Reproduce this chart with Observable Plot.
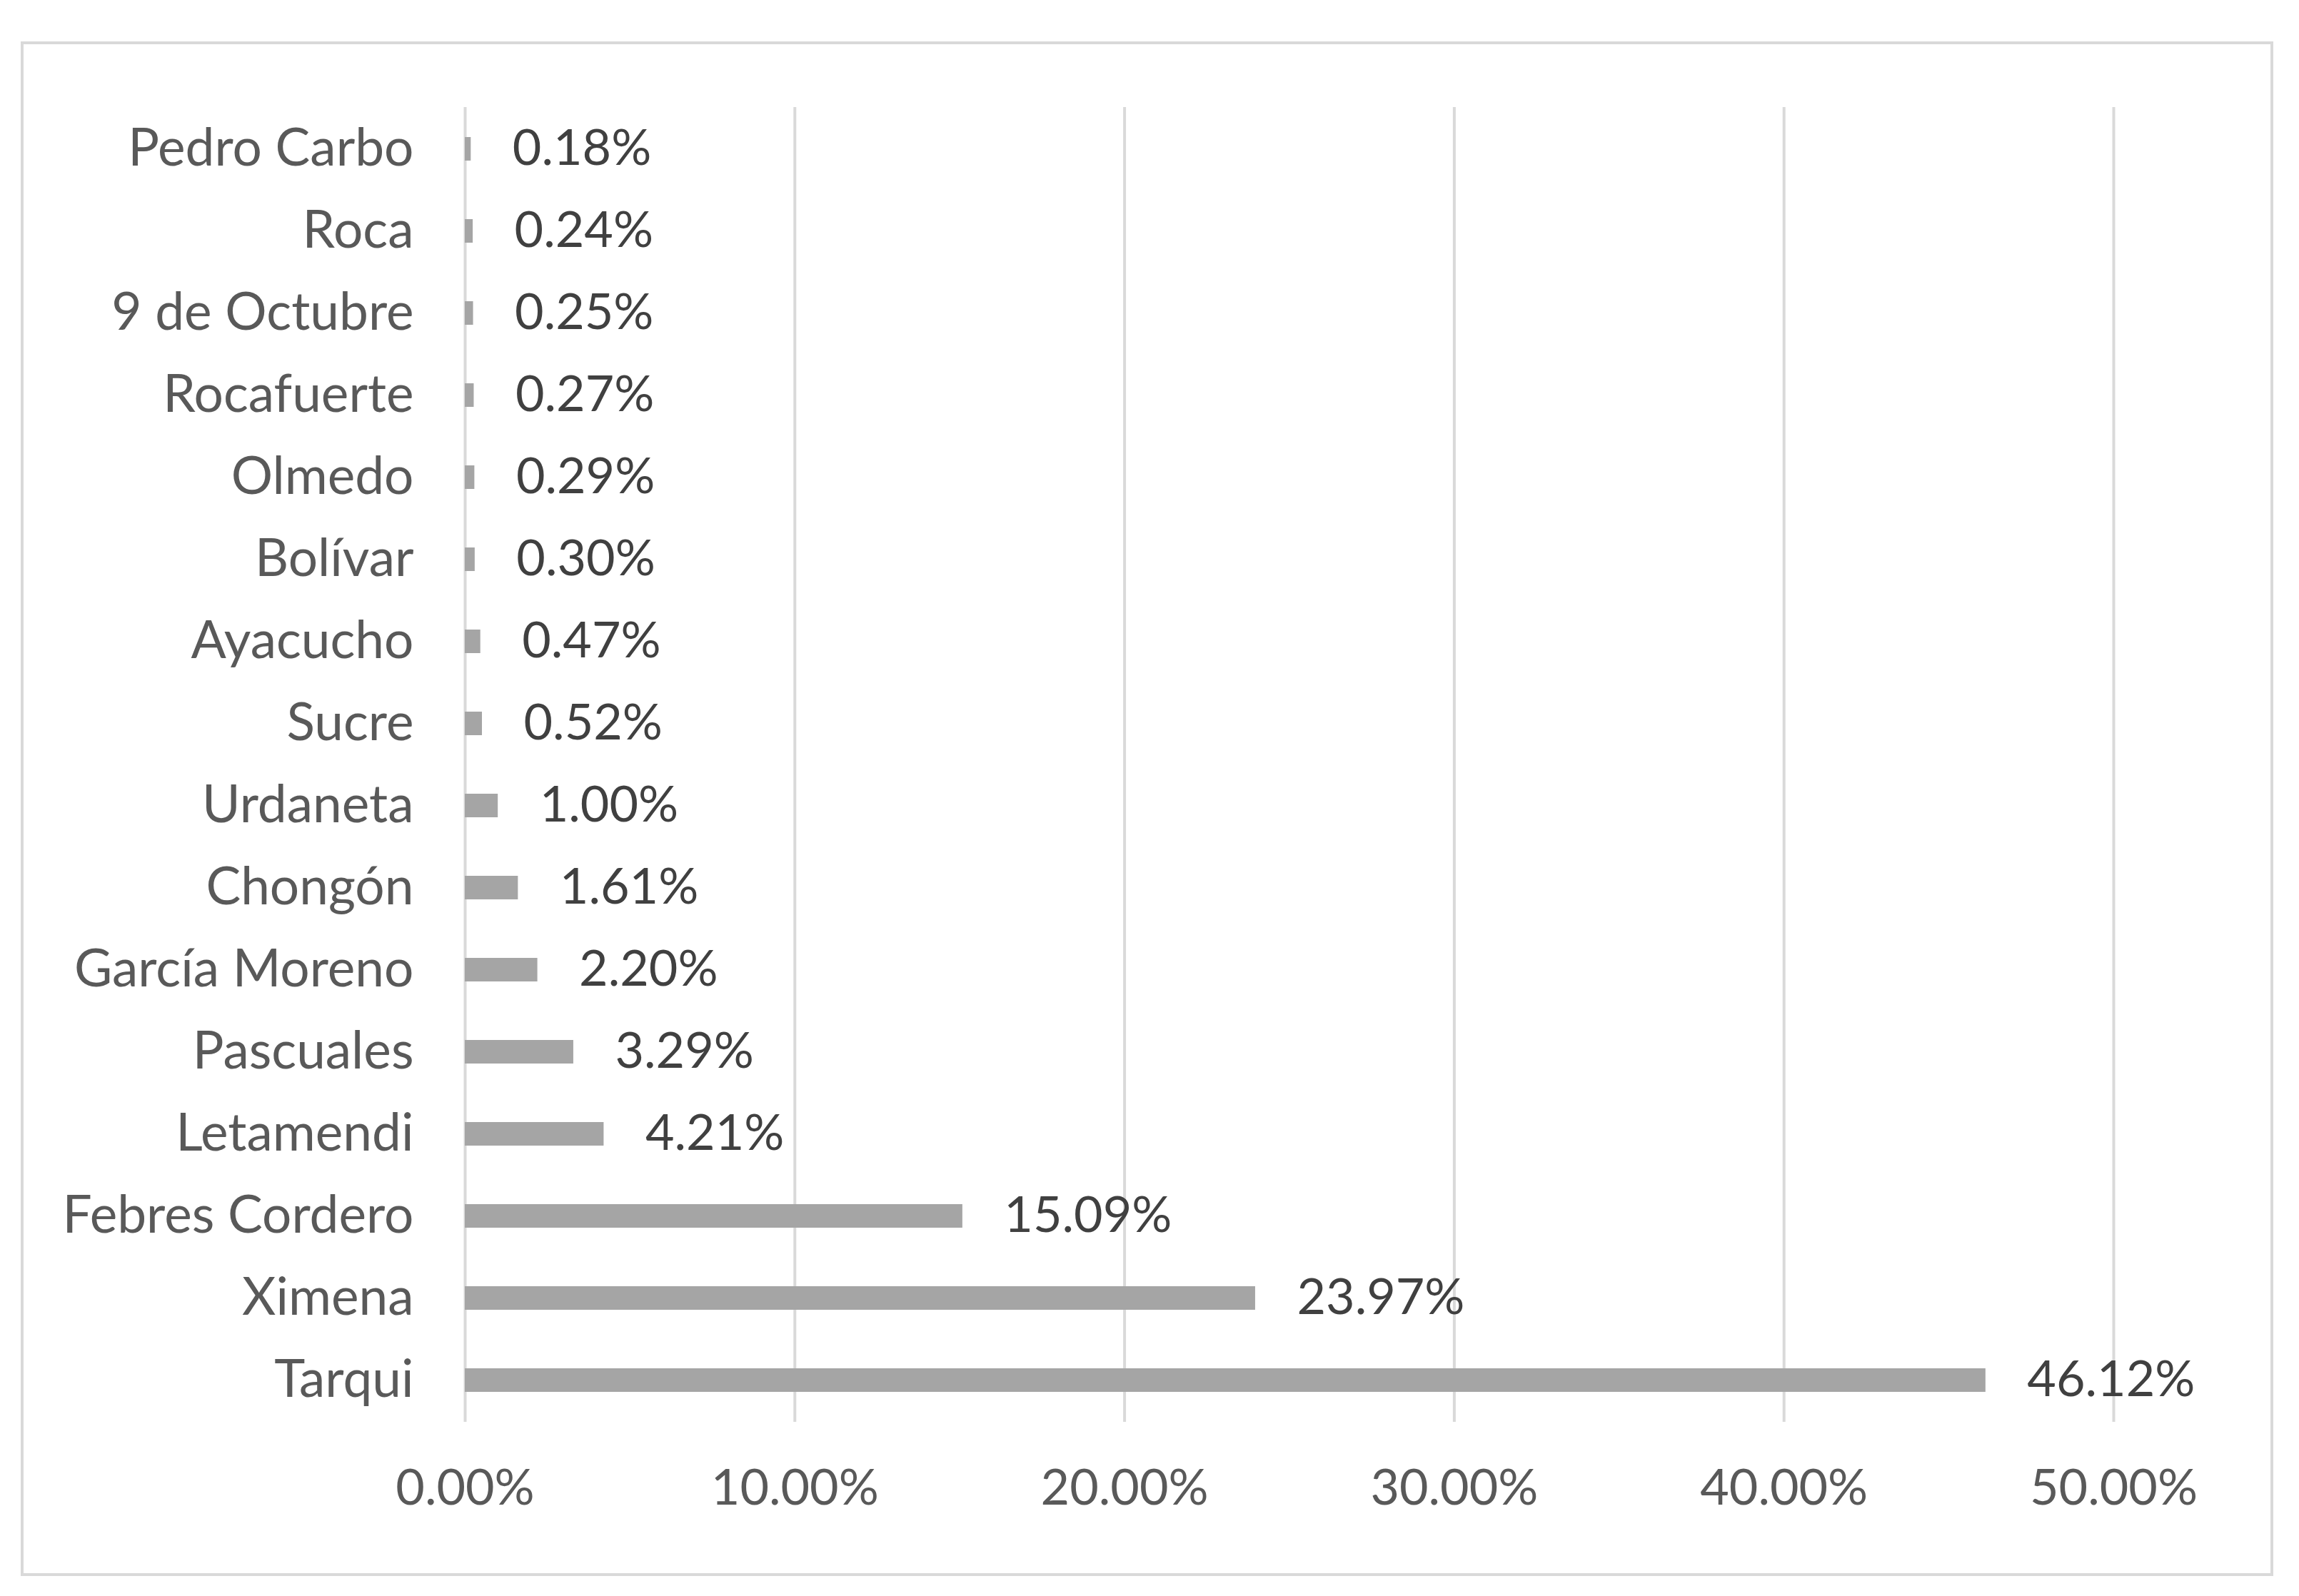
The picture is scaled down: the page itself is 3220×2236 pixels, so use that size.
<!DOCTYPE html>
<html>
<head>
<meta charset="utf-8">
<script src="https://cdn.jsdelivr.net/npm/d3@7"></script>
<script src="https://cdn.jsdelivr.net/npm/@observablehq/plot@0.6"></script>
<style>
  html, body { margin: 0; padding: 0; background: #ffffff; }
  #wrap { position: relative; width: 3220px; height: 2236px; }
  #frame { position: absolute; left: 29px; top: 58px; width: 3147px; height: 2142px; border: 4px solid #d9d9d9; pointer-events: none; }
  #chart { position: absolute; left: 0; top: 0; }
</style>
</head>
<body>
<div id="wrap"><div id="chart"></div><div id="frame"></div></div>
<script>
const parishes = ["Pedro Carbo", "Roca", "9 de Octubre", "Rocafuerte", "Olmedo", "Bolívar", "Ayacucho", "Sucre", "Urdaneta", "Chongón", "García Moreno", "Pascuales", "Letamendi", "Febres Cordero", "Ximena", "Tarqui"];
const shares = [0.18, 0.24, 0.25, 0.27, 0.29, 0.30, 0.47, 0.52, 1.00, 1.61, 2.20, 3.29, 4.21, 15.09, 23.97, 46.12];
const xTicks = [0, 10, 20, 30, 40, 50];

const data = parishes.map((name, i) => ({name, value: shares[i]}));
const pct = v => v.toFixed(2) + "%";

const chart = Plot.plot({
  width: 3220,
  height: 2236,
  marginLeft: 651,
  marginRight: 260,
  marginTop: 150,
  marginBottom: 244,
  style: {fontFamily: "Lato, 'Open Sans', sans-serif", fontSize: "70px", background: "transparent"},
  x: {domain: [0, 50]},
  y: {domain: parishes, paddingInner: 0.71, paddingOuter: 0.355},
  marks: [
    Plot.gridX(xTicks, {stroke: "#d9d9d9", strokeOpacity: 1, strokeWidth: 4}),
    Plot.barX(data, {x: "value", y: "name", fill: "#a5a5a5"}),
    Plot.text(data, {x: "value", y: "name", text: d => pct(d.value), textAnchor: "start", dx: 58, fill: "#404040", fontSize: 70}),
    Plot.axisX(xTicks, {tickSize: 0, tickPadding: 66, tickFormat: pct, fill: "#595959", fontSize: 70, label: null}),
    Plot.axisY({tickSize: 0, tickPadding: 72, fill: "#595959", fontSize: 73, label: null})
  ]
});
document.getElementById("chart").appendChild(chart);
</script>
</body>
</html>
